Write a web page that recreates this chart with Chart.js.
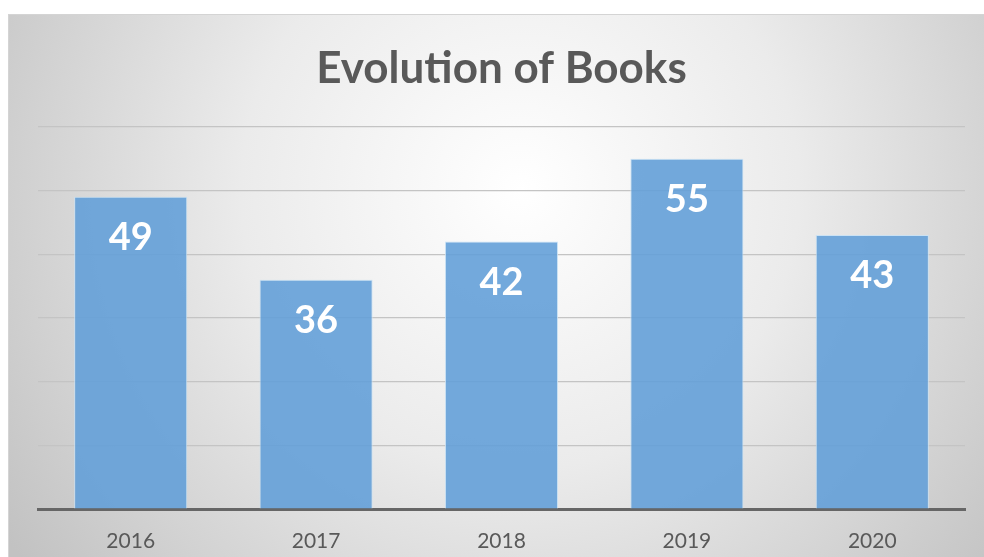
<!DOCTYPE html>
<html>
<head>
<meta charset="utf-8">
<script src="https://cdn.jsdelivr.net/npm/chart.js@4"></script>
<style>
  html, body { margin: 0; padding: 0; background: #fff; }
  #wrap { width: 984px; height: 557px; position: relative; }
</style>
</head>
<body>
<div id="wrap"><canvas id="booksChart" width="984" height="557"></canvas></div>
<script>
// Evolution of Books — yearly counts
const years = ["2016", "2017", "2018", "2019", "2020"];
const books = [49, 36, 42, 55, 43];
const yMax = 60;
const yStep = 10;

// grey radial "panel" behind the chart, like the office chart style
const panelBg = {
  id: "panelBg",
  beforeDraw(chart) {
    const { ctx } = chart;
    const x0 = 8, y0 = 14, w = chart.width - x0, h = chart.height - y0;
    ctx.save();
    const g = ctx.createRadialGradient(520, 190, 0, 520, 190, 620);
    g.addColorStop(0, "#ffffff");
    g.addColorStop(0.45, "#ebebeb");
    g.addColorStop(1, "#c2c2c2");
    ctx.fillStyle = g;
    ctx.fillRect(x0, y0, w, h);
    ctx.strokeStyle = "#d4d4d4";
    ctx.lineWidth = 1;
    ctx.strokeRect(x0 + 0.5, y0 + 0.5, w, h);
    ctx.restore();
  }
};

// big white value inside the top of each bar
const barValues = {
  id: "barValues",
  afterDatasetsDraw(chart) {
    const { ctx } = chart;
    const meta = chart.getDatasetMeta(0);
    ctx.save();
    ctx.fillStyle = "#ffffff";
    ctx.font = "bold 38px Lato, 'Open Sans', sans-serif";
    ctx.textAlign = "center";
    ctx.textBaseline = "middle";
    meta.data.forEach((bar, i) => {
      ctx.fillText(books[i], bar.x, bar.y + 41);
    });
    ctx.restore();
  }
};

new Chart(document.getElementById("booksChart"), {
  type: "bar",
  plugins: [panelBg, barValues],
  data: {
    labels: years,
    datasets: [{
      label: "Books",
      data: books,
      backgroundColor: "rgba(100,160,216,0.9)",
      borderColor: "rgba(200,225,245,0.9)",
      borderWidth: 1,
      barPercentage: 0.61,
      categoryPercentage: 1.0
    }]
  },
  options: {
    responsive: false,
    animation: false,
    layout: { padding: { left: 38, right: 19, top: 42, bottom: 0 } },
    plugins: {
      legend: { display: false },
      tooltip: { enabled: false },
      title: {
        display: true,
        text: "Evolution of Books",
        color: "#595959",
        font: { family: "Lato, 'Open Sans', sans-serif", size: 44, weight: "bold" },
        padding: { top: 0, bottom: 32 }
      }
    },
    scales: {
      x: {
        grid: { display: false },
        border: { display: true, color: "#666666", width: 3 },
        ticks: {
          color: "#595959",
          font: { family: "Lato, 'Open Sans', sans-serif", size: 21 },
          padding: 12
        },
        afterFit(scale) { scale.height = 48; }
      },
      y: {
        min: 0,
        max: yMax,
        ticks: { display: false, stepSize: yStep },
        border: { display: false },
        grid: { color: "#c4c4c4", lineWidth: 1.2, drawTicks: false }
      }
    }
  }
});
</script>
</body>
</html>
